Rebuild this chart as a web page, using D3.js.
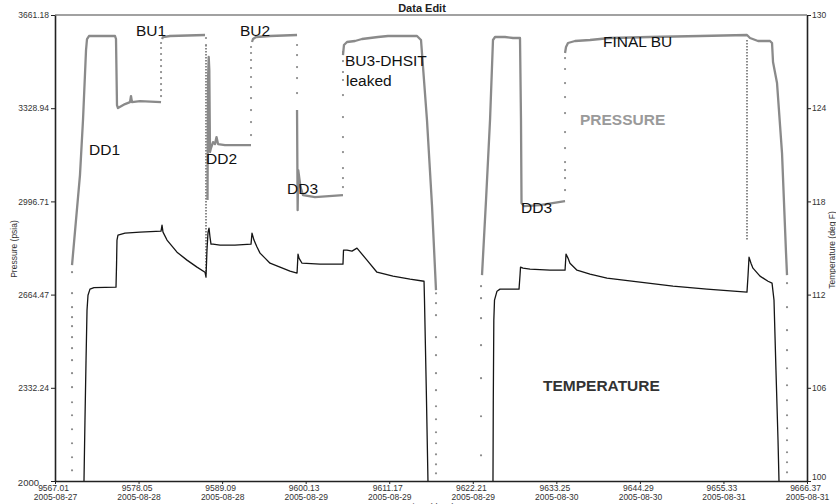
<!DOCTYPE html>
<html>
<head>
<meta charset="utf-8">
<script src="https://cdn.jsdelivr.net/npm/d3@7"></script>
<style>
  body { margin: 0; background: #fff; }
  svg { display: block; font-family: "Liberation Sans", Arial, sans-serif; }
</style>
</head>
<body>
<div id="chart"></div>
<script>
// Axis ticks
var xTickValues = [9567.01, 9578.05, 9589.09, 9600.13, 9611.17, 9622.21, 9633.25, 9644.29, 9655.33, 9666.37];
var xTickDates = ["2005-08-27", "2005-08-28", "2005-08-28", "2005-08-29", "2005-08-29",
                  "2005-08-29", "2005-08-30", "2005-08-30", "2005-08-31", "2005-08-31"];
var pressureTicks = [2000, 2332.24, 2664.47, 2996.71, 3328.94, 3661.18];
var tempTicks = [100, 106, 112, 118, 124, 130];

// Pressure (psia) - continuous parts of the gauge record, [time, pressure]
var pressureDD1 = [[9569.26,2769.5],[9570.31,3090.5],[9570.71,3286.7],[9571.11,3536.4],[9571.24,3575.6],
  [9571.50,3586.3],[9574.94,3586.3],[9575.07,3575.6],[9575.20,3340.1],[9575.33,3329.4],[9576.26,3343.7],
  [9576.92,3350.8],[9577.05,3372.3],[9577.18,3350.8],[9578.24,3354.4],[9581.02,3350.8]];
var pressureBU1 = [[9581.15,3575.6],[9581.28,3582.7],[9582.20,3586.3],[9586.83,3589.9]];
var pressureDD2 = [[9587.16,3001.3],[9587.23,3429.4],[9587.32,3511.4],[9587.40,3465.0],[9587.49,3172.5],
  [9587.62,3186.8],[9587.89,3208.2],[9588.15,3201.0],[9588.35,3226.0],[9588.55,3201.0],[9589.47,3197.5],
  [9592.91,3197.5]];
var pressureBU2 = [[9593.04,3564.9],[9593.17,3575.6],[9593.57,3582.7],[9595.42,3586.3],[9598.99,3589.9]];
var pressureDD3 = [[9598.99,3322.3],[9599.07,2965.6],[9599.15,3108.3],[9599.45,3047.7],[9599.78,3019.1],
  [9601.36,3012.0],[9605.06,3019.1]];
var pressureBU3 = [[9605.06,3518.5],[9605.19,3554.2],[9605.59,3564.9],[9606.65,3568.5],[9607.57,3575.6],
  [9608.63,3579.2],[9609.69,3582.7],[9611.01,3586.3],[9614.84,3586.3],[9614.97,3582.7],[9615.37,3572.0],
  [9616.16,3286.7],[9616.82,2983.5],[9617.35,2680.3]];
var pressureRerun = [[9623.43,2733.8],[9623.96,3001.3],[9624.49,3286.7],[9624.88,3572.0],[9625.15,3582.7],
  [9626.47,3582.7],[9627.53,3579.2],[9628.45,3579.2],[9628.58,3286.7],[9628.65,2990.6],[9628.98,2979.9],
  [9631.09,2983.5],[9634.40,2997.8]];
var pressureFinalBU = [[9634.40,3525.7],[9634.53,3547.1],[9634.79,3561.3],[9635.72,3568.5],[9637.70,3572.0],
  [9640.34,3579.2],[9645.62,3582.7],[9652.24,3586.3],[9658.44,3589.9],[9658.84,3579.2],[9659.90,3568.5],
  [9661.48,3568.5],[9661.75,3561.3],[9661.88,3493.5],[9662.41,3418.6],[9663.07,3168.9],[9663.60,2812.3],
  [9663.73,2733.8]];

// Sparse samples during fast pressure changes: time and the pressures recorded
var pressureDots = [
  {t: 9569.26, p: [2744.5,2669.5,2619.6,2583.9,2551.8,2512.6,2473.4,2430.6,2384.2,2334.3,2280.8,2234.4,2184.4,2134.5,2084.6,2038.2]},
  {t: 9581.02, p: [3372.3,3393.6,3415.0,3436.4,3457.8,3479.2,3500.7,3522.1,3543.5,3561.3]},
  {t: 9586.96, p: [3579.2,3554.2]},
  {t: 9592.91, p: [3233.1,3279.6,3322.3,3365.1,3404.4,3440.1,3472.2,3500.7,3525.7,3547.1]},
  {t: 9598.99, p: [3554.2,3518.5,3475.7,3436.4,3382.9]},
  {t: 9605.06, p: [3047.6,3079.8,3115.4,3172.5,3226.0,3297.3,3375.8,3429.4,3457.9,3497.1,3529.3]},
  {t: 9617.35, p: [2669.1,2633.9,2591.1,2512.6,2448.4,2384.2,2323.6,2266.5,2220.1,2173.7,2134.5,2095.2,2059.6,2027.5]},
  {t: 9623.30, p: [2091.7,2230.9,2366.4,2484.2,2580.4,2651.7,2694.5]},
  {t: 9634.40, p: [3037.0,3079.8,3108.3,3136.8,3186.8,3243.9,3311.6,3368.7,3418.6,3468.6,3507.8]},
  {t: 9663.73, p: [2705.2,2619.6,2537.6,2466.3,2402.0,2341.4,2287.9,2234.4,2188.0,2145.3,2102.5,2066.8,2031.1]}
];
// Densely sampled drops: [time, from pressure, to pressure]
var pressureDenseRuns = [[9586.96, 3554.2, 2740.0], [9658.44, 3572.0, 2858.7]];

// Temperature (deg F), [time, temperature]
var temperatureRun1 = [[9570.84,100],[9570.97,103.91],[9571.11,107.78],[9571.24,111.00],[9571.37,111.96],
  [9571.63,112.35],[9572.16,112.45],[9575.07,112.48],[9575.14,113.89],[9575.20,115.51],[9575.33,115.83],
  [9576.26,115.96],[9578.24,116.02],[9581.02,116.09],[9581.15,116.47],[9581.28,116.02],[9581.81,115.51],
  [9583.13,114.73],[9584.45,114.22],[9585.77,113.77],[9586.83,113.44],[9586.96,113.12],[9587.09,114.86],
  [9587.23,116.02],[9587.36,116.28],[9587.49,115.70],[9587.62,115.25],[9587.89,115.25],[9588.81,115.18],
  [9590.79,115.18],[9592.91,115.25],[9593.04,115.96],[9593.30,115.51],[9593.70,115.06],[9594.10,114.67],
  [9594.76,114.35],[9595.42,114.02],[9596.74,113.77],[9598.06,113.51],[9598.99,113.38],[9599.12,114.61],
  [9599.25,114.35],[9599.65,114.02],[9602.02,113.96],[9605.06,113.96],[9605.13,114.86],[9605.59,114.86],
  [9606.25,114.80],[9606.91,114.99],[9608.23,114.22],[9609.55,113.44],[9611.67,113.19],[9613.92,112.99],
  [9615.77,112.86],[9615.83,111.64],[9616.07,105.84],[9616.29,100]];
var temperatureRun2 = [[9624.88,100],[9624.92,105.20],[9624.99,110.35],[9625.08,111.64],[9625.41,112.22],
  [9625.81,112.35],[9628.32,112.35],[9628.45,113.25],[9628.52,113.77],[9628.85,113.70],[9629.77,113.64],
  [9632.41,113.57],[9634.40,113.57],[9634.53,114.61],[9634.79,114.35],[9635.05,114.02],[9635.98,113.57],
  [9637.70,113.32],[9639.94,113.06],[9644.30,112.80],[9648.66,112.54],[9653.15,112.35],[9658.44,112.16],
  [9658.58,113.25],[9658.71,114.41],[9658.97,114.02],[9659.23,113.70],[9660.16,113.19],[9661.22,112.86],
  [9661.75,112.74],[9662.01,111.64],[9662.27,107.13],[9662.54,102.62],[9662.67,100]];

var pressureSegments = [pressureDD1, pressureBU1, pressureDD2, pressureBU2, pressureDD3,
                        pressureBU3, pressureRerun, pressureFinalBU];
var temperatureSegments = [temperatureRun1, temperatureRun2];

var margin = {top: 15, right: 29, bottom: 23, left: 55},
    width = 836 - margin.left - margin.right,
    height = 504 - margin.top - margin.bottom;

var svg = d3.select("#chart")
  .append("svg")
    .attr("width", 836)
    .attr("height", 504);

var x = d3.scaleLinear().domain([9567.01, 9666.37]).range([margin.left, margin.left + width]);
var yP = d3.scaleLinear().domain([2000, 3661.18]).range([margin.top + height, margin.top]);
var yT = d3.scaleLinear().domain([100, 130]).range([margin.top + height, margin.top]);

var grey = "#8a8a8a", axisColor = "#222", labelColor = "#333";

svg.append("clipPath").attr("id", "plotClip")
  .append("rect")
    .attr("x", margin.left).attr("y", margin.top)
    .attr("width", width).attr("height", height);

var plot = svg.append("g").attr("clip-path", "url(#plotClip)");

// Top frame line
svg.append("line")
  .attr("x1", margin.left).attr("x2", margin.left + width)
  .attr("y1", margin.top).attr("y2", margin.top)
  .attr("stroke", "#444").attr("stroke-width", 1.2);

// Pressure
var pLine = d3.line().x(function(d) { return x(d[0]); }).y(function(d) { return yP(d[1]); });

plot.selectAll(".dense")
  .data(pressureDenseRuns)
  .enter().append("line")
    .attr("x1", function(d) { return x(d[0]); })
    .attr("x2", function(d) { return x(d[0]); })
    .attr("y1", function(d) { return yP(d[1]); })
    .attr("y2", function(d) { return yP(d[2]); })
    .attr("stroke", grey)
    .attr("stroke-width", 2)
    .attr("stroke-dasharray", "1.5,1.5");

plot.selectAll(".pseg")
  .data(pressureSegments)
  .enter().append("path")
    .attr("d", pLine)
    .attr("fill", "none")
    .attr("stroke", grey)
    .attr("stroke-width", 2.3)
    .attr("stroke-linejoin", "round");

var dotData = [];
pressureDots.forEach(function(col) {
  col.p.forEach(function(p) { dotData.push([col.t, p]); });
});
plot.selectAll(".pdot")
  .data(dotData)
  .enter().append("circle")
    .attr("cx", function(d) { return x(d[0]); })
    .attr("cy", function(d) { return yP(d[1]); })
    .attr("r", 1.1)
    .attr("fill", grey);

// Temperature
var tLine = d3.line().x(function(d) { return x(d[0]); }).y(function(d) { return yT(d[1]); });
plot.selectAll(".tseg")
  .data(temperatureSegments)
  .enter().append("path")
    .attr("d", tLine)
    .attr("fill", "none")
    .attr("stroke", "#151515")
    .attr("stroke-width", 1.3)
    .attr("stroke-linejoin", "round");

// Axes
function styleAxis(g) {
  g.select(".domain").attr("stroke", axisColor).attr("stroke-width", 1.6);
  g.selectAll(".tick line").attr("stroke", axisColor);
  g.selectAll(".tick text").attr("fill", labelColor).style("font-size", "8.5px")
    .style("font-family", "\"Liberation Sans\", Arial, sans-serif");
}

var leftAxis = svg.append("g")
  .attr("transform", "translate(" + margin.left + ",0)")
  .call(d3.axisLeft(yP).tickValues(pressureTicks).tickSize(4).tickSizeOuter(0).tickPadding(2)
    .tickFormat(function(d) { return d === 2000 ? "2000" : d3.format(".2f")(d); }))
  .call(styleAxis);
leftAxis.selectAll(".tick text").filter(function(d) { return d === 2000; })
  .attr("dx", -10).attr("dy", "0.45em").style("font-size", "9.5px");

var rightAxis = svg.append("g")
  .attr("transform", "translate(" + (margin.left + width) + ",0)")
  .call(d3.axisRight(yT).tickValues(tempTicks).tickSize(4).tickSizeOuter(0).tickPadding(1))
  .call(styleAxis);
rightAxis.selectAll(".tick text").filter(function(d) { return d === 100; })
  .attr("dy", "-0.15em");

var bottomAxis = svg.append("g")
  .attr("transform", "translate(0," + (margin.top + height) + ")")
  .call(d3.axisBottom(x).tickValues(xTickValues).tickSize(3).tickSizeOuter(0).tickFormat(""))
  .call(styleAxis);
bottomAxis.selectAll(".tick").each(function(d, i) {
  var t = d3.select(this).select("text").attr("y", 0).attr("dy", null);
  t.append("tspan").attr("x", -2).attr("y", 9.5).text(d3.format(".2f")(d));
  t.append("tspan").attr("x", 0).attr("y", 18.5).text(xTickDates[i]);
});

// Axis titles
svg.append("text")
  .attr("transform", "translate(17," + (margin.top + height / 2 + 1) + ") rotate(-90)")
  .attr("text-anchor", "middle").attr("fill", labelColor).style("font-size", "8.5px")
  .text("Pressure (psia)");
svg.append("text")
  .attr("transform", "translate(835," + (margin.top + height / 2 + 2) + ") rotate(-90)")
  .attr("text-anchor", "middle").attr("fill", labelColor).style("font-size", "8.5px")
  .text("Temperature (deg F)");
// x title sits at the bottom edge, only its top shows (as in the source image)
svg.append("text")
  .attr("x", margin.left + width / 2).attr("y", 510)
  .attr("text-anchor", "middle").attr("fill", labelColor).style("font-size", "9px")
  .text("Time (days)");

// Title
svg.append("text")
  .attr("x", 422).attr("y", 12)
  .attr("text-anchor", "middle").attr("fill", "#222")
  .style("font-size", "11px").style("font-weight", "bold")
  .text("Data Edit");

// Annotations
var notes = svg.append("g").style("font-size", "15.5px").attr("fill", "#111");
notes.append("text").attr("x", 136).attr("y", 36).text("BU1");
notes.append("text").attr("x", 240).attr("y", 36).text("BU2");
notes.append("text").attr("x", 345).attr("y", 66).text("BU3-DHSIT");
notes.append("text").attr("x", 346).attr("y", 86).text("leaked");
notes.append("text").attr("x", 89).attr("y", 155).text("DD1");
notes.append("text").attr("x", 206).attr("y", 164).text("DD2");
notes.append("text").attr("x", 287).attr("y", 194).text("DD3");
notes.append("text").attr("x", 521).attr("y", 213).text("DD3");
notes.append("text").attr("x", 603).attr("y", 47).text("FINAL BU");

svg.append("text").attr("x", 580).attr("y", 125)
  .attr("fill", "#9a9a9a").style("font-size", "15.5px").style("font-weight", "bold")
  .text("PRESSURE");
svg.append("text").attr("x", 543).attr("y", 391)
  .attr("fill", "#333").style("font-size", "15.5px").style("font-weight", "bold")
  .text("TEMPERATURE");
</script>
</body>
</html>
